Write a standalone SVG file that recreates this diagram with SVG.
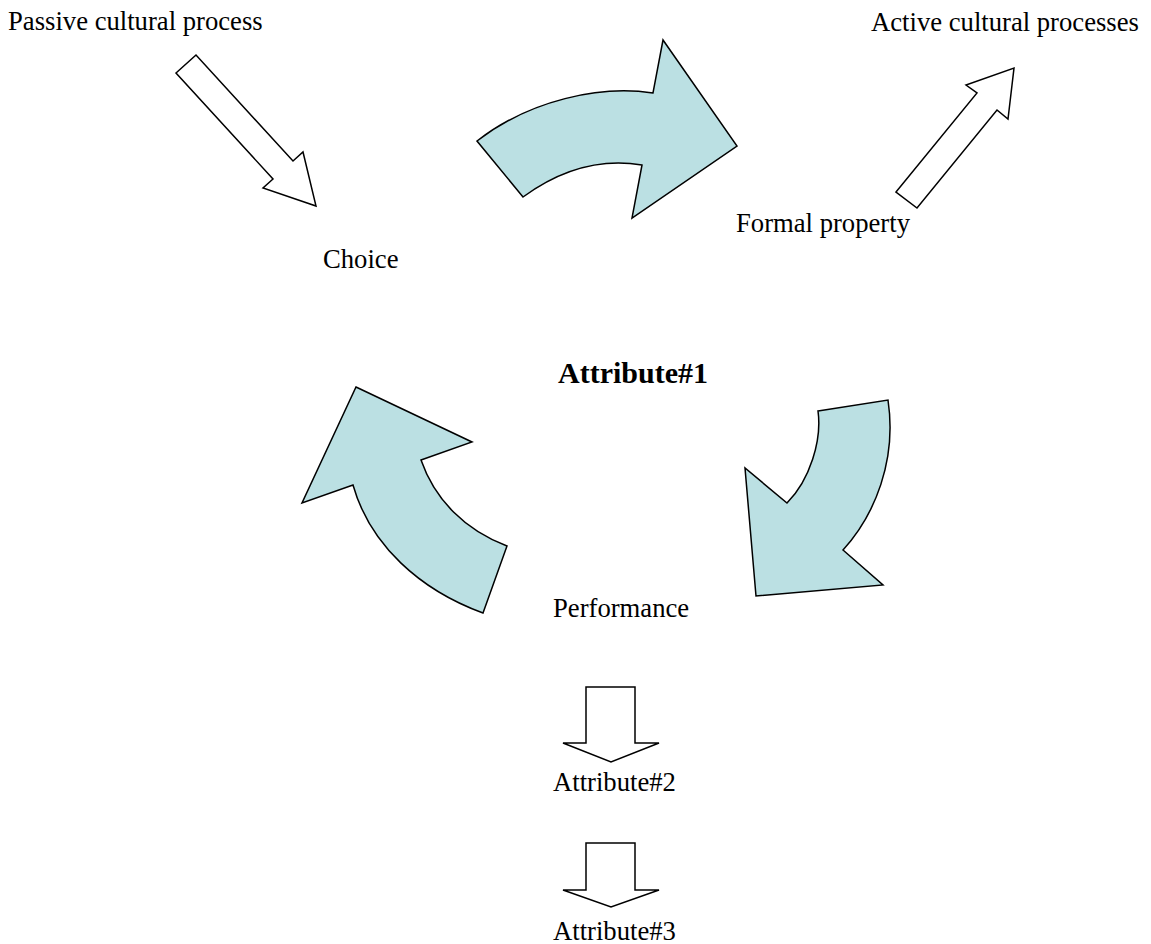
<svg xmlns="http://www.w3.org/2000/svg" width="1151" height="944" viewBox="0 0 1151 944">
<style>
.t{font-family:"Liberation Serif","Times New Roman",serif;font-size:26.67px;fill:#000}
.b{font-weight:bold;font-size:30px}
.curve{fill:#bbe0e3;stroke:#000;stroke-width:1.5;stroke-linejoin:miter}
.hollow{fill:#fff;stroke:#000;stroke-width:1.5;stroke-linejoin:miter}
</style>
<rect width="1151" height="944" fill="#fff"/>
<g id="connectors">
<polygon id="arrow-passive" class="hollow" points="176,73 196,55 293,161 303,152 316,206 263,188 273,179"/>
<polygon id="arrow-active" class="hollow" points="896,192 977,93 966,85 1014,68 1008,119 997,110 917,208"/>
<path id="cycle-top" class="curve" d="M477,141 C530,100 600,85 653,93 L663,40 L737,146 L632,218 L642,165 C600,158 560,170 523,197 Z"/>
<path id="cycle-right" class="curve" d="M818,411 L888,400 C897,460 875,515 843,550 L883,585 L756,596 L745,468 L787,503 C810,480 822,440 818,411 Z"/>
<path id="cycle-left" class="curve" d="M356,387 L472,442 L421,460 C435,500 465,530 507,546 L483,613 C420,590 370,545 353,485 L302,503 Z"/>
<polygon id="arrow-down-1" class="hollow" points="586,687 635,687 635,743 659,743 611,762 563,743 586,743"/>
<polygon id="arrow-down-2" class="hollow" points="586,843 635,843 635,890 659,890 611,907 563,890 586,890"/>
</g>
<g id="passive"><text class="t" x="8" y="30">Passive cultural process</text></g>
<g id="active"><text class="t" x="871" y="31">Active cultural processes</text></g>
<g id="choice"><text class="t" x="323" y="268">Choice</text></g>
<g id="formal"><text class="t" x="736" y="232">Formal property</text></g>
<g id="attr1"><text class="t b" x="558" y="383">Attribute#1</text></g>
<g id="performance"><text class="t" x="553" y="617">Performance</text></g>
<g id="attr2"><text class="t" x="553" y="791">Attribute#2</text></g>
<g id="attr3"><text class="t" x="553" y="940">Attribute#3</text></g>
</svg>
